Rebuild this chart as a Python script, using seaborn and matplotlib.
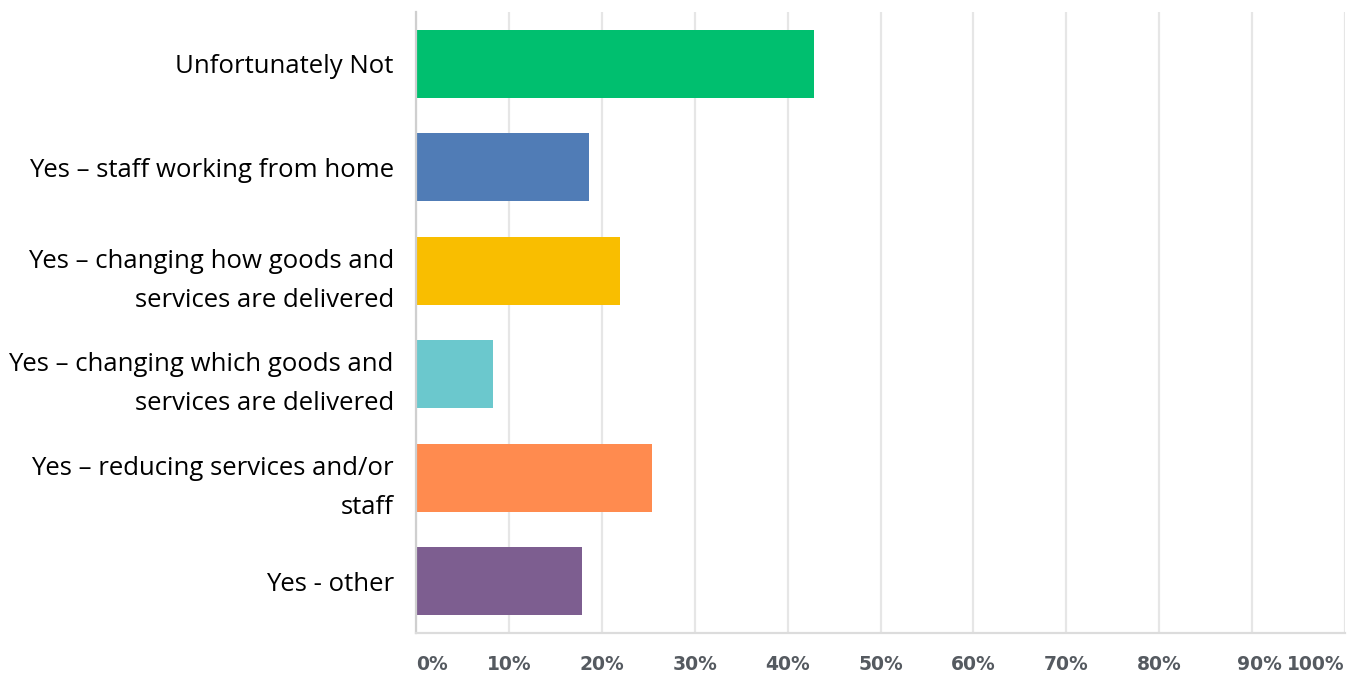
import matplotlib
matplotlib.use("Agg")
import matplotlib.pyplot as plt
import matplotlib.transforms as mtransforms
import seaborn as sns
import pandas as pd

categories = [
    "Unfortunately Not",
    "Yes – staff working from home",
    "Yes – changing how goods and\nservices are delivered",
    "Yes – changing which goods and\nservices are delivered",
    "Yes – reducing services and/or\nstaff",
    "Yes - other",
]
percent = [42.8, 18.6, 22.0, 8.3, 25.4, 17.9]
colors = ["#00BF6F", "#507CB6", "#F9BE00", "#6BC8CD", "#FF8B4F", "#7D5E90"]
tick_values = [0, 10, 20, 30, 40, 50, 60, 70, 80, 90, 100]
tick_labels = ["0%", "10%", "20%", "30%", "40%", "50%", "60%", "70%", "80%", "90%", "100%"]

df = pd.DataFrame({"category": categories, "percent": percent})

sns.set_theme(style="white")
plt.rcParams["font.family"] = ["Open Sans", "DejaVu Sans"]

fig = plt.figure(figsize=(13.54, 6.75), dpi=100)
ax = fig.add_axes([416 / 1354, 1 - 633 / 675, (1345 - 416) / 1354, (633 - 12) / 675])

sns.barplot(
    data=df, x="percent", y="category", hue="category",
    palette=colors, orient="h", width=0.66, legend=False, ax=ax,
    saturation=1, edgecolor="none",
)

ax.set_xlim(0, 100)
ax.set_ylim(5.5, -0.5)
ax.set_xticks(tick_values)
ax.set_xticklabels(tick_labels)
ax.grid(axis="x", color="#e6e6e6", linewidth=1.6)
ax.set_axisbelow(True)
ax.set_xlabel("")
ax.set_ylabel("")

for side in ["top", "right"]:
    ax.spines[side].set_visible(False)
ax.spines["left"].set_color("#cfcfcf")
ax.spines["left"].set_linewidth(1.6)
ax.spines["bottom"].set_color("#dcdcdc")
ax.spines["bottom"].set_linewidth(1.6)

ax.tick_params(axis="x", length=0, pad=16, labelsize=13.5, labelcolor="#555a60")
ax.tick_params(axis="y", length=0, pad=16, labelsize=18.5, labelcolor="#000000")

for lab in ax.get_xticklabels():
    lab.set_fontfamily(["DejaVu Sans"])
    lab.set_fontweight("bold")
xlabs = ax.get_xticklabels()
xlabs[0].set_horizontalalignment("left")
xlabs[-1].set_horizontalalignment("right")
xlabs[-2].set_transform(xlabs[-2].get_transform() +
                        mtransforms.ScaledTranslation(7 / 100, 0, fig.dpi_scale_trans))

for lab in ax.get_yticklabels():
    lab.set_linespacing(1.75)
    lab.set_horizontalalignment("right")
    lab.set_multialignment("right")

fig.savefig("out.png", dpi=100, facecolor="white")
